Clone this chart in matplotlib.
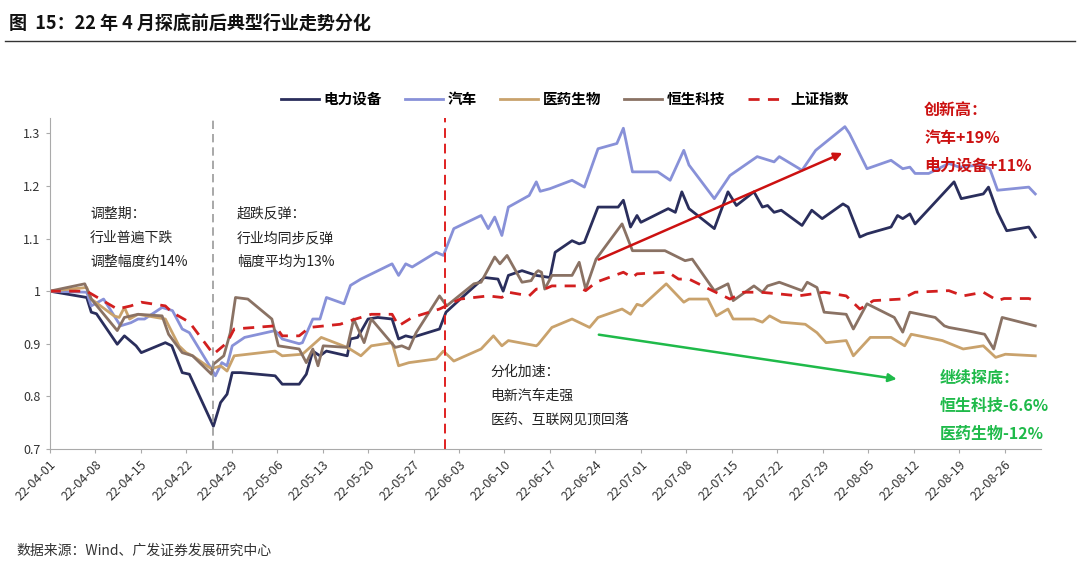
import matplotlib
matplotlib.use("Agg")
import matplotlib.pyplot as plt
import numpy as np
import datetime as dt

plt.rcParams['font.family'] = ['Noto Sans CJK SC', 'DejaVu Sans']

start = dt.date(2022, 4, 1)
tick_labels = ['22-04-01','22-04-08','22-04-15','22-04-22','22-04-29','22-05-06','22-05-13','22-05-20',
               '22-05-27','22-06-03','22-06-10','22-06-17','22-06-24','22-07-01','22-07-08','22-07-15',
               '22-07-22','22-07-29','22-08-05','22-08-12','22-08-19','22-08-26']

# day offsets from 2022-04-01 and values
dl_x = [0,5.7,6.4,7.2,10.4,11.5,13.3,14.1,17.8,18.8,20.4,21.5,25.2,26.3,27.3,28.1,29.4,34.7,35.8,38.4,39.5,40.5,41.6,42.6,45.8,46.3,47.4,49,50.5,52.7,53.7,54.8,55.8,60,61,63.2,66.9,69,69.8,70.6,72.7,74.9,
        77,77.8,80.4,81.5,82.3,84.4,87.5,88.3,89.4,90.4,91,95.2,96.3,97.3,98.4,102.3,104.4,105.7,108.4,109.7,110.5,111.5,112.6,115.8,117.3,118.9,122.1,122.9,124.7,125.8,129.5,130.5,131.3,132.4,133.2,139.2,140.3,143.7,144.5,145.9,147.3,150.7,151.7]
dl_y = [1.0,0.988,0.96,0.957,0.899,0.915,0.896,0.883,0.902,0.896,0.845,0.842,0.743,0.788,0.804,0.845,0.845,0.839,0.823,0.823,0.842,0.886,0.877,0.886,0.877,0.909,0.912,0.947,0.95,0.947,0.909,0.915,0.912,0.928,0.96,0.985,1.026,1.023,1.0,1.03,1.039,1.03,
        1.026,1.074,1.096,1.09,1.093,1.16,1.16,1.173,1.122,1.144,1.131,1.157,1.15,1.189,1.157,1.119,1.189,1.163,1.189,1.16,1.163,1.15,1.154,1.125,1.154,1.138,1.166,1.16,1.103,1.109,1.122,1.144,1.138,1.147,1.128,1.208,1.176,1.185,1.198,1.15,1.115,1.122,1.103]

qc_x = [0,5.7,6.4,8.3,10.9,12.5,13.6,14.6,17.3,18.9,20.4,21.5,24.9,25.5,26.5,27.3,28.1,30,34.7,35.8,38.4,38.9,40.5,41.6,42.6,45.3,46.3,47.9,52.7,53.7,54.8,55.8,59.5,60.6,62.2,66.4,67.5,68.5,69.6,70.6,73.8,74.9,
        75.5,77,80.4,82.3,84.4,87.3,88.3,89.7,93.6,95.5,97.6,98.4,102.3,104.7,108.9,111.5,112.3,115.8,117.9,122.4,123.1,125.8,129.5,131.3,132.4,133.2,135.3,138.4,140,143.2,144.7,145.9,150.7,151.7]
qc_y = [1.0,0.998,0.972,0.985,0.934,0.94,0.947,0.947,0.969,0.963,0.928,0.921,0.852,0.839,0.864,0.858,0.896,0.912,0.925,0.909,0.9,0.902,0.947,0.947,0.988,0.976,1.011,1.023,1.052,1.03,1.052,1.046,1.074,1.068,1.119,1.144,1.119,1.141,1.106,1.16,1.182,1.208,
        1.19,1.195,1.211,1.198,1.271,1.281,1.31,1.227,1.227,1.211,1.268,1.24,1.176,1.22,1.256,1.246,1.256,1.23,1.268,1.313,1.3,1.233,1.249,1.233,1.236,1.224,1.224,1.243,1.236,1.24,1.233,1.192,1.198,1.185]

yy_x = [0,5.7,6.4,9.9,10.7,11.5,12.3,13.6,17.8,19.9,21,22,24.9,26.3,27.3,28.4,34.7,35.8,38.9,41.8,45.8,47.9,49.5,52.7,53.7,55.3,59.5,60.6,62.2,66.4,68.3,69.6,70.6,74.9,
        75.2,77.3,80.4,83.1,84.4,88.1,89.4,90.4,91.2,94.9,97.6,98.4,101.3,102.6,104.4,105.2,108.4,109.7,110.8,112.6,116.3,118.1,119.5,122.6,123.7,126.3,129.5,131.6,132.6,137.4,140.6,143.7,145.6,147.1,151.7]
yy_y = [1.0,1.007,0.985,0.953,0.95,0.969,0.947,0.956,0.947,0.896,0.883,0.877,0.852,0.858,0.848,0.877,0.886,0.877,0.88,0.912,0.893,0.877,0.896,0.902,0.858,0.864,0.871,0.886,0.867,0.89,0.915,0.896,0.906,0.896,
        0.899,0.931,0.947,0.931,0.95,0.966,0.956,0.975,0.972,1.014,0.979,0.985,0.985,0.953,0.966,0.947,0.947,0.941,0.953,0.941,0.937,0.921,0.902,0.906,0.877,0.912,0.912,0.896,0.918,0.906,0.89,0.896,0.874,0.88,0.877]

hs_x = [0,5.4,6.4,10.4,11.5,13.6,17.3,18.3,20.4,22,24.9,25.2,26.8,27.8,28.6,30.5,34.2,35.2,38.4,39.5,40.5,41.3,42.1,45.8,46.8,48.4,49.5,53.2,54.2,55.3,56.4,60,61.1,65.3,66.4,68.5,69.3,70.4,72.7,74.1,74.9,
        75.2,75.7,76.2,77.3,80.4,81.5,82.5,84.1,88.1,89.7,94.7,97.8,98.9,102.3,104.4,105.2,108.4,109.7,110.5,112.3,115.8,116.6,118.1,119.2,122.6,123.7,125.8,130,131.3,132.4,136.3,137.7,138.4,141.1,143.9,145.3,146.6,151.7]
hs_y = [1.0,1.014,0.985,0.925,0.95,0.956,0.953,0.918,0.883,0.877,0.842,0.861,0.877,0.921,0.988,0.985,0.947,0.896,0.89,0.864,0.89,0.858,0.896,0.893,0.947,0.902,0.947,0.893,0.896,0.89,0.921,0.991,0.972,1.014,1.017,1.065,1.052,1.068,1.017,1.02,1.036,
        1.039,1.036,1.004,1.03,1.03,1.055,1.004,1.061,1.128,1.077,1.077,1.058,1.061,1.001,1.014,0.982,1.01,0.998,1.01,1.017,1.001,1.017,1.007,0.96,0.956,0.928,0.976,0.95,0.922,0.96,0.95,0.934,0.931,0.925,0.918,0.89,0.95,0.934]

sz_x = [0,5.7,10.4,12.5,14.1,17.8,18.8,21.5,25.2,27.3,28.4,34.7,35.8,38.4,40,44.7,46.3,49.5,52.7,53.7,55.8,60,63.2,67.5,69.6,70.6,73.8,74.9,
        76.2,77.3,81,82.5,84.1,88.3,89.7,90.4,95.2,96.8,98.4,102,104.7,106.8,109.4,112.1,115.2,119.2,122.6,124.7,126.8,131.1,133.2,138.4,140.6,143.7,145.9,146.9,150.7,151.7]
sz_y = [1.0,1.0,0.966,0.972,0.979,0.972,0.96,0.941,0.88,0.902,0.928,0.934,0.915,0.915,0.931,0.937,0.944,0.956,0.956,0.934,0.95,0.966,0.985,0.991,0.988,0.998,0.991,1.004,
        1.004,1.01,1.01,1.001,1.017,1.036,1.026,1.033,1.036,1.023,1.023,1.001,0.985,0.998,0.998,0.995,0.991,0.998,0.991,0.966,0.982,0.985,0.998,1.001,0.991,0.998,0.982,0.986,0.986,0.982]

names = ['电力设备', '汽车', '医药生物', '恒生科技', '上证指数']
colors = ['#2a2e5c', '#8891d8', '#c9a26c', '#8a7264', '#d21f1f']

def to_dates(xs):
    return [dt.datetime(2022, 4, 1) + dt.timedelta(days=float(d)) for d in xs]

fig = plt.figure(figsize=(10.8, 5.66), dpi=100)
ax = fig.add_axes([0.046, 0.207, 0.918, 0.585])

series = [(dl_x, dl_y), (qc_x, qc_y), (yy_x, yy_y), (hs_x, hs_y)]
for (xs, ys), n, c in zip(series, names[:4], colors[:4]):
    ax.plot(to_dates(xs), ys, color=c, lw=2.0, label=n, solid_joinstyle='round')
ax.plot(to_dates(sz_x), sz_y, color=colors[4], lw=2.0, ls=(0, (4, 3)), label=names[4])

D = lambda d: dt.datetime(2022, 4, 1) + dt.timedelta(days=d)
ax.axvline(D(25.2), color='#999999', ls=(0, (5, 3)), lw=1.2)
ax.axvline(D(60.8), color='#e02020', ls=(0, (5, 3)), lw=1.4)

ax.annotate('', xy=(D(122.4), 1.265), xytext=(D(84.1), 1.058),
            arrowprops=dict(arrowstyle='-|>', color='#cc1111', lw=1.8, mutation_scale=12))
ax.annotate('', xy=(D(130.8), 0.832), xytext=(D(84.1), 0.918),
            arrowprops=dict(arrowstyle='-|>', color='#1fba4a', lw=1.8, mutation_scale=12))

fs = 10
for i, t in enumerate(['调整期：', '行业普遍下跌', '调整幅度约14%']):
    ax.text(D(6.2), 1.147 - i * 0.046, t, fontsize=fs, va='center', color='#222222')
for i, t in enumerate(['超跌反弹：', '行业均同步反弹', '幅度平均为13%']):
    ax.text(D(28.8), 1.147 - i * 0.046, t, fontsize=fs, va='center', color='#222222')
for i, t in enumerate(['分化加速：', '电新汽车走强', '医药、互联网见顶回落']):
    ax.text(D(67.8), 0.847 - i * 0.046, t, fontsize=fs, va='center', color='#222222')
for i, t in enumerate(['创新高：', '汽车+19%', '电力设备+11%']):
    ax.text(D(134.6), 1.344 - i * 0.053, t, fontsize=11.5, va='center', color='#cc1111', fontweight='bold')
for i, t in enumerate(['继续探底：', '恒生科技-6.6%', '医药生物-12%']):
    ax.text(D(137.0), 0.835 - i * 0.053, t, fontsize=11.5, va='center', color='#1fba4a', fontweight='bold')

ax.set_ylim(0.7, 1.33)
ax.set_yticks([0.7, 0.8, 0.9, 1.0, 1.1, 1.2, 1.3])
ax.set_yticklabels(['0.7', '0.8', '0.9', '1', '1.1', '1.2', '1.3'], fontsize=9, color='#333333')
ticks = [dt.datetime.strptime('20' + t, '%Y-%m-%d') for t in tick_labels]
ax.set_xticks(ticks)
ax.set_xticklabels(tick_labels, rotation=45, ha='right', rotation_mode='anchor', fontsize=9, color='#333333')
ax.set_xlim(D(0), D(152.6))
for s in ['top', 'right']:
    ax.spines[s].set_visible(False)
for s in ['left', 'bottom']:
    ax.spines[s].set_color('#aaaaaa')
ax.tick_params(axis='both', length=3, color='#aaaaaa')

ax.legend(loc='upper center', bbox_to_anchor=(0.52, 1.12), ncol=5, frameon=False,
          handlelength=2.6, columnspacing=1.6, handletextpad=0.3,
          prop={'weight': 'bold', 'size': 10.5})

fig.text(0.008, 0.975, '图  15：22 年 4 月探底前后典型行业走势分化', fontsize=13, fontweight='bold',
         va='top', ha='left', color='#111111')
fig.add_artist(plt.Line2D([0.005, 0.995], [0.928, 0.928], color='#333333', lw=1.0, transform=fig.transFigure))
fig.text(0.015, 0.015, '数据来源：Wind、广发证券发展研究中心', fontsize=10, va='bottom', ha='left', color='#333333')

fig.savefig('out.png', dpi=100)
